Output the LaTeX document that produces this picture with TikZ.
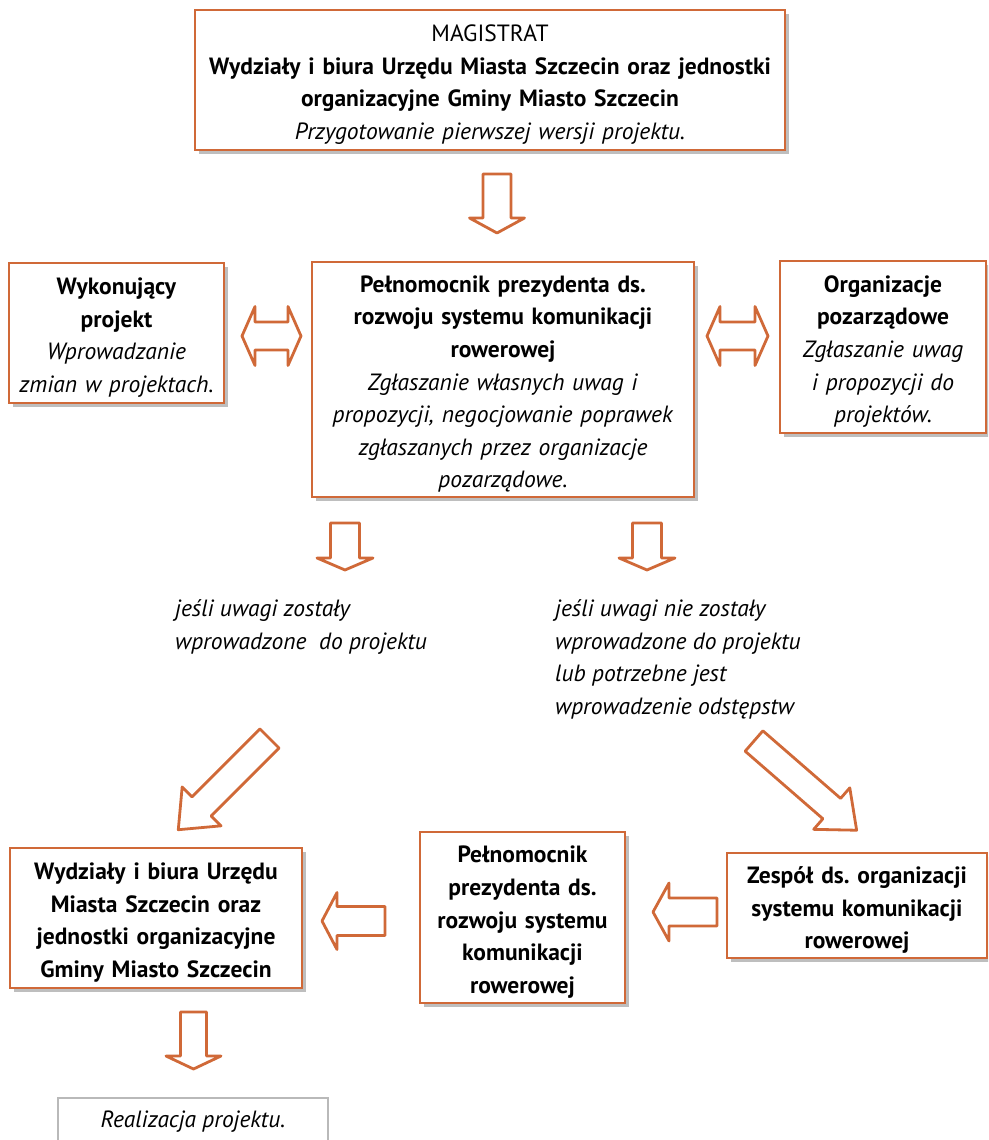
\documentclass[tikz,border=0pt]{standalone}
\usepackage{fontspec}
\setmainfont{PT Sans}
\frenchspacing
\usetikzlibrary{shadows}
\definecolor{org}{RGB}{208,105,56}
\definecolor{shd}{RGB}{190,190,190}
\definecolor{gbord}{RGB}{185,185,185}
\newcommand{\fs}{\fontsize{23.5}{32.6}\selectfont}
% x, y, angle, length, shaft half width, head half width, head length
\newcommand{\blockarrow}[7]{%
  \begin{scope}[shift={(#1,#2)},rotate=#3]
    \draw[arrowline] (0,#5) -- ({#4-#7},#5) -- ({#4-#7},#6) -- (#4,0) -- ({#4-#7},-#6) -- ({#4-#7},-#5) -- (0,-#5) -- cycle;
  \end{scope}}
% center x, y, length, shaft half width, head half width, head length
\newcommand{\dblarrow}[6]{%
  \begin{scope}[shift={(#1,#2)}]
    \draw[arrowline] ({-#3/2},0) -- ({-#3/2+#6},#5) -- ({-#3/2+#6},#4) -- ({#3/2-#6},#4) -- ({#3/2-#6},#5) -- ({#3/2},0)
      -- ({#3/2-#6},-#5) -- ({#3/2-#6},-#4) -- ({-#3/2+#6},-#4) -- ({-#3/2+#6},-#5) -- cycle;
  \end{scope}}
\begin{document}
\begin{tikzpicture}[x=1pt,y=-1pt,
  arrowline/.style={draw=org, line width=2.8pt, line join=round, fill=white},
  box/.style={draw=org, line width=2pt, fill=white, inner sep=0pt, align=center, font=\fs,
    execute at begin node={\rule{0pt}{26pt}},
    drop shadow={shadow xshift=4pt, shadow yshift=-4pt, fill=shd, opacity=1}},
  lbl/.style={inner sep=0pt, align=left, font=\fs\itshape, anchor=west},
  rbox/.style={draw=gbord, line width=1.5pt, fill=white, inner sep=0pt, font=\fs\itshape}]
\useasboundingbox (0,0) rectangle (988,1140);
\clip (0,0) rectangle (988,1140);

\node[box, minimum width=590, minimum height=140, text width=584] (mag) at (490,80)
 {MAGISTRAT\\ \textbf{Wydziały i biura Urzędu Miasta Szczecin oraz jednostki}\\ \textbf{organizacyjne Gminy Miasto Szczecin}\\ \textit{Przygotowanie pierwszej wersji projektu.}};

\node[box, minimum width=215, minimum height=140, text width=209] (wyk) at (116.5,333)
 {\textbf{Wykonujący}\\ \textbf{projekt}\\ \textit{Wprowadzanie}\\ \textit{zmian w projektach.}};

\node[box, minimum width=382, minimum height=235, text width=376] (pel) at (503,379.5)
 {\textbf{Pełnomocnik prezydenta ds.}\\ \textbf{rozwoju systemu komunikacji}\\ \textbf{rowerowej}\\ \textit{Zgłaszanie własnych uwag i}\\ \textit{propozycji, negocjowanie poprawek}\\ \textit{zgłaszanych przez organizacje}\\ \textit{pozarządowe.}};

\node[box, minimum width=206, minimum height=172, text width=200] (org) at (883,347)
 {\textbf{Organizacje}\\ \textbf{pozarządowe}\\ \textit{Zgłaszanie uwag}\\ \textit{i propozycji do}\\ \textit{projektów.}};

\node[lbl] (l1) at (175,627) {jeśli uwagi zostały\\ wprowadzone\ \ do projektu};
\node[lbl] (l2) at (555,659.5) {jeśli uwagi nie zostały\\ wprowadzone do projektu\\ lub potrzebne jest\\ wprowadzenie odstępstw};

\node[box, minimum width=292, minimum height=140, text width=286] (wyd) at (156,918)
 {\textbf{Wydziały i biura Urzędu}\\ \textbf{Miasta Szczecin oraz}\\ \textbf{jednostki organizacyjne}\\ \textbf{Gminy Miasto Szczecin}};

\node[box, minimum width=205, minimum height=171, text width=199] (pel2) at (522.5,917.5)
 {\textbf{Pełnomocnik}\\ \textbf{prezydenta ds.}\\ \textbf{rozwoju systemu}\\ \textbf{komunikacji}\\ \textbf{rowerowej}};

\node[box, minimum width=260, minimum height=105, text width=254] (zes) at (857,905.5)
 {\textbf{Zespół ds. organizacji}\\ \textbf{systemu komunikacji}\\ \textbf{rowerowej}};

\node[rbox, minimum width=270, minimum height=48] (real) at (193,1122) {Realizacja projektu.};

% block arrows
\blockarrow{497}{174}{-90}{59}{14}{27.5}{15}
\dblarrow{271.5}{336}{59}{14}{29.5}{13}
\dblarrow{737.5}{336}{61}{14}{29.5}{13}
\blockarrow{345}{523}{-90}{47}{14.5}{28}{12}
\blockarrow{647}{523}{-90}{47}{14.5}{28}{12}
\blockarrow{269.5}{738.5}{225}{129}{13.5}{27.5}{33}
\blockarrow{754}{741}{-41}{136}{13.5}{27.5}{33}
\blockarrow{385}{921}{180}{63}{14.5}{28.5}{15}
\blockarrow{717}{912}{180}{64}{14}{29}{16}
\blockarrow{193.5}{1012}{-90}{57}{13}{27.5}{13}
\end{tikzpicture}
\end{document}
